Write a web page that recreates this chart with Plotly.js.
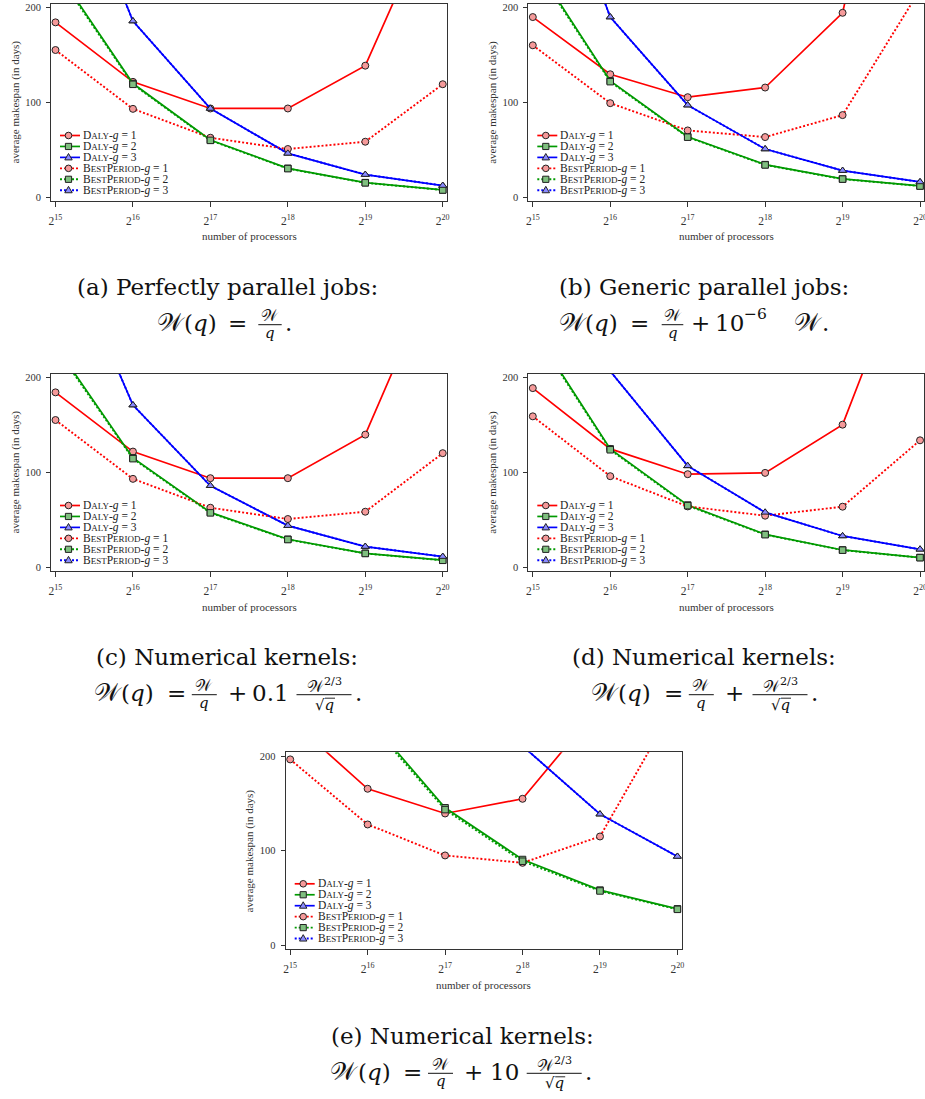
<!DOCTYPE html>
<html>
<head>
<meta charset="utf-8">
<script src="https://cdn.plot.ly/plotly-3.0.1.min.js"></script>
<style>
html,body{margin:0;padding:0;background:#fff;}
#chart{width:925px;height:1099px;}
</style>
</head>
<body>
<div id="chart"></div>
<script>
// ---------------- data ----------------
const procs = [32768, 65536, 131072, 262144, 524288, 1048576];
const procTicks = ['2<sup>15</sup>', '2<sup>16</sup>', '2<sup>17</sup>', '2<sup>18</sup>', '2<sup>19</sup>', '2<sup>20</sup>'];
const yTicks = [0, 100, 200];
const yTickText = ['0', '100', '200'];

// (a) perfectly parallel
const dalyA1 = [184.6, 121.8, 93.7, 93.7, 138.9, 323];
const dalyA2 = [241, 120.0, 60.4, 30.5, 15.4, 7.7];
const dalyA3 = [390, 186.0, 93.7, 46.3, 23.9, 12.3];
const bestA1 = [155.4, 93.3, 62.8, 50.9, 58.6, 119.3];
const bestA2 = [239, 119.2, 60.0, 30.2, 15.2, 7.6];
const bestA3 = [390, 186.0, 93.7, 46.3, 23.9, 12.3];
// (b) generic parallel
const dalyB1 = [190.2, 129.8, 105.6, 115.8, 194.7, 560];
const dalyB2 = [249, 122.8, 63.9, 34.4, 19.3, 11.9];
const dalyB3 = [410, 190.2, 97.2, 50.9, 28.1, 16.1];
const bestB1 = [160.4, 99.3, 70.5, 63.5, 86.7, 219];
const bestB2 = [247, 122.0, 63.4, 34.1, 19.1, 11.8];
const bestB3 = [410, 190.2, 97.2, 50.9, 28.1, 16.1];
// (c) numerical kernels 0.1
const dalyC1 = [184.6, 122.1, 94.0, 94.0, 140.0, 329];
const dalyC2 = [234, 115.4, 57.9, 29.5, 14.7, 7.4];
const dalyC3 = [361, 171.2, 86.0, 43.9, 21.8, 11.2];
const bestC1 = [155.4, 93.3, 62.8, 50.9, 58.6, 120.4];
const bestC2 = [232, 114.6, 57.4, 29.2, 14.5, 7.3];
const bestC3 = [361, 171.2, 86.0, 43.9, 21.8, 11.2];
// (d) numerical kernels 1
const dalyD1 = [189.1, 124.9, 98.2, 99.6, 150.5, 362];
const dalyD2 = [251.6, 124.9, 65.6, 34.7, 18.2, 10.2];
const dalyD3 = [400, 207, 107.0, 57.9, 33.0, 18.9];
const bestD1 = [159.3, 96.1, 64.2, 54.4, 63.9, 134.0];
const bestD2 = [250, 124.0, 65.0, 34.4, 18.0, 10.1];
const bestD3 = [400, 207, 107.0, 57.9, 33.0, 18.9];
// (e) numerical kernels 10
const dalyE1 = [238.6, 165.5, 139.4, 154.9, 253, 400];
const dalyE2 = [480, 240.6, 145.4, 90.8, 58.5, 38.7];
const dalyE3 = [1700, 850, 420, 210.7, 138.7, 94.0];
const bestE1 = [196.5, 127.8, 95.1, 87.3, 115.1, 257.7];
const bestE2 = [475, 238, 143.5, 89.0, 57.6, 38.2];
const bestE3 = [1700, 850, 420, 210.7, 138.7, 94.0];

const legendLabels = [
  'D<span style="font-size:9px">ALY</span>-<i>g</i> = 1',
  'D<span style="font-size:9px">ALY</span>-<i>g</i> = 2',
  'D<span style="font-size:9px">ALY</span>-<i>g</i> = 3',
  'B<span style="font-size:9px">EST</span>P<span style="font-size:9px">ERIOD</span>-<i>g</i> = 1',
  'B<span style="font-size:9px">EST</span>P<span style="font-size:9px">ERIOD</span>-<i>g</i> = 2',
  'B<span style="font-size:9px">EST</span>P<span style="font-size:9px">ERIOD</span>-<i>g</i> = 3'
];
const xTitle = 'number of processors';
const yTitle = 'average makespan (in days)';

// ---------------- styling / layout ----------------
const W = 925, H = 1099;
const px = x => x / W;
const py = y => 1 - y / H;
const BW = 396, BH = 197;
const SERIF = 'Liberation Serif, Times New Roman, serif';
const CAP = 'DejaVu Serif, serif';
const colors = ['#ff0000', '#009a00', '#0000ff'];
const fills = ['#f59a9a', '#7fbf7f', '#8a8aff'];
const symbols = ['circle', 'square', 'triangle-up'];
const DOT = '2px,2px';

const panels = [
  {L: 51, T: 4, daly: [dalyA1, dalyA2, dalyA3], best: [bestA1, bestA2, bestA3]},
  {L: 528.3, T: 4, daly: [dalyB1, dalyB2, dalyB3], best: [bestB1, bestB2, bestB3]},
  {L: 51, T: 374, daly: [dalyC1, dalyC2, dalyC3], best: [bestC1, bestC2, bestC3]},
  {L: 528.3, T: 374, daly: [dalyD1, dalyD2, dalyD3], best: [bestD1, bestD2, bestD3]},
  {L: 285.7, T: 752.3, daly: [dalyE1, dalyE2, dalyE3], best: [bestE1, bestE2, bestE3]}
];

const xr = [14.942 * Math.LOG10E * Math.LN2, 20.055 * Math.LOG10E * Math.LN2];
const yr = [-4, 204];

const traces = [];
const layout = {
  width: W, height: H,
  margin: {l: 0, r: 0, t: 0, b: 0},
  paper_bgcolor: '#fff', plot_bgcolor: '#fff',
  showlegend: false,
  annotations: [], shapes: []
};

function ann(x, y, text, size, opts) {
  const a = Object.assign({
    xref: 'paper', yref: 'paper', x: px(x), y: py(y), text: text,
    showarrow: false, xanchor: 'left', yanchor: 'middle',
    font: {family: CAP, size: size, color: '#111'}, borderpad: 0
  }, opts || {});
  layout.annotations.push(a);
}

panels.forEach((p, k) => {
  const s = k === 0 ? '' : String(k + 1);
  layout['xaxis' + s] = {
    type: 'log', range: xr, domain: [px(p.L), px(p.L + BW)], anchor: 'y' + s,
    tickvals: procs, ticktext: procTicks, ticks: 'outside', ticklen: 5, tickwidth: 1, tickcolor: '#333',
    showline: true, linecolor: '#333', linewidth: 1, mirror: true,
    showgrid: false, zeroline: false, ticklabelstandoff: 4, ticklabeloverflow: 'allow',
    tickfont: {family: SERIF, size: 11.5, color: '#333'}, fixedrange: true
  };
  layout['yaxis' + s] = {
    range: yr, domain: [py(p.T + BH), py(p.T)], anchor: 'x' + s,
    tickvals: yTicks, ticktext: yTickText, ticks: 'outside', ticklen: 4, tickwidth: 1, tickcolor: '#333',
    showline: true, linecolor: '#333', linewidth: 1, mirror: true,
    showgrid: false, zeroline: false, ticklabelstandoff: 3,
    tickfont: {family: SERIF, size: 10.5, color: '#333'}, fixedrange: true
  };
  const groups = [p.daly, p.best];
  groups.forEach((grp, gi) => {
    grp.forEach((vals, g) => {
      traces.push({
        type: 'scatter', mode: 'lines+markers', x: procs, y: vals,
        xaxis: 'x' + s, yaxis: 'y' + s,
        line: {color: colors[g], width: gi === 0 ? 1.7 : 1.9, dash: gi === 0 ? 'solid' : DOT},
        marker: {symbol: symbols[g], size: g === 1 ? 6.5 : 7, color: fills[g], line: {color: '#222', width: 1}},
        hoverinfo: 'skip'
      });
    });
  });
  // axis titles
  ann(p.L + BW / 2, p.T + BH + 35.5, xTitle, 11, {xanchor: 'center', font: {family: SERIF, size: 11, color: '#333'}});
  ann(p.L - 36, p.T + BH / 2, yTitle, 11, {xanchor: 'center', textangle: -90, font: {family: SERIF, size: 11, color: '#333'}});
  // legend
  for (let i = 0; i < 6; i++) {
    const g = i % 3;
    const y = p.T + 131.5 + i * 10.95;
    layout.shapes.push({type: 'line', xref: 'paper', yref: 'paper', x0: px(p.L + 9), x1: px(p.L + 29), y0: py(y), y1: py(y),
      line: {color: colors[g], width: i < 3 ? 1.7 : 1.9, dash: i < 3 ? 'solid' : DOT}});
    const mx = p.L + 17.5;
    if (g === 0) {
      layout.shapes.push({type: 'circle', xref: 'paper', yref: 'paper', x0: px(mx - 3.3), x1: px(mx + 3.3), y0: py(y + 3.3), y1: py(y - 3.3),
        fillcolor: fills[g], line: {color: '#222', width: 1}});
    } else if (g === 1) {
      layout.shapes.push({type: 'rect', xref: 'paper', yref: 'paper', x0: px(mx - 3.1), x1: px(mx + 3.1), y0: py(y + 3.1), y1: py(y - 3.1),
        fillcolor: fills[g], line: {color: '#222', width: 1}});
    } else {
      layout.shapes.push({type: 'path', xref: 'paper', yref: 'paper',
        path: 'M ' + px(mx) + ' ' + py(y - 3.9) + ' L ' + px(mx + 3.7) + ' ' + py(y + 2.5) + ' L ' + px(mx - 3.7) + ' ' + py(y + 2.5) + ' Z',
        fillcolor: fills[g], line: {color: '#222', width: 1}});
    }
    ann(p.L + 31, y, legendLabels[i], 11.5, {font: {family: SERIF, size: 11.5, color: '#222'}});
  }
});

// ---------------- captions ----------------
const SCRW = '\u{1D4B2}';
// items: c = centre x of a text piece, x = left x, f = fraction (x0..x1)
const captions = [
  {cx: 227, base: 294.7, l1: '(a) Perfectly parallel jobs:', items: [
    {w: 1, c: 170.8}, {t: '(<i>q</i>)', c: 200}, {t: '=', c: 237.5}, {f: 1, x0: 258.3, x1: 281.7}, {t: '.', x: 284}]},
  {cx: 704, base: 294.7, l1: '(b) Generic parallel jobs:', items: [
    {w: 1, c: 572.5}, {t: '(<i>q</i>)', c: 601.7}, {t: '=', c: 639.2}, {f: 1, x0: 661.7, x1: 683.3}, {t: '+', c: 700.8},
    {t: '10', c: 729.2}, {t: '\u22126', x: 743, s: 15.5, dy: -11.5}, {w: 1, c: 807.5}, {t: '.', x: 821}]},
  {cx: 227, base: 664.7, l1: '(c) Numerical kernels:', items: [
    {w: 1, c: 108}, {t: '(<i>q</i>)', c: 137.8}, {t: '=', c: 176.1}, {f: 1, x0: 191.8, x1: 216.8}, {t: '+', c: 237.1},
    {t: '0.1', c: 270.7}, {f: 2, x0: 296.5, x1: 351.5}, {t: '.', x: 353.5}]},
  {cx: 704, base: 664.7, l1: '(d) Numerical kernels:', items: [
    {w: 1, c: 605}, {t: '(<i>q</i>)', c: 634.8}, {t: '=', c: 673.1}, {f: 1, x0: 688.8, x1: 713.8}, {t: '+', c: 734.1},
    {f: 2, x0: 752.5, x1: 807.5}, {t: '.', x: 809.5}]},
  {cx: 462, base: 1043.3, l1: '(e) Numerical kernels:', items: [
    {w: 1, c: 344.2}, {t: '(<i>q</i>)', c: 374}, {t: '=', c: 412.3}, {f: 1, x0: 428, x1: 453}, {t: '+', c: 473.3},
    {t: '10', c: 504.2}, {f: 2, x0: 526.7, x1: 581.7}, {t: '.', x: 583.5}]}
];
const CS = 23;
captions.forEach(c => {
  ann(c.cx, c.base - 0.33 * CS, c.l1, CS, {xanchor: 'center'});
  const bar = c.base + 30;
  const mainBase = bar + 6;
  c.items.forEach(it => {
    if (it.w) {
      ann(it.c, mainBase - 0.33 * 25, SCRW, 25, {xanchor: 'center'});
    } else if (it.t !== undefined) {
      const s = it.s || CS;
      const y = mainBase - 0.33 * s + (it.dy || 0);
      if (it.c !== undefined) ann(it.c, y, it.t, s, {xanchor: 'center'});
      else ann(it.x, y, it.t, s);
    } else {
      const cxf = (it.x0 + it.x1) / 2;
      layout.shapes.push({type: 'line', xref: 'paper', yref: 'paper', x0: px(it.x0), x1: px(it.x1), y0: py(bar), y1: py(bar),
        line: {color: '#111', width: 1}});
      if (it.f === 1) {
        ann(cxf, bar - 3.5 - 0.33 * 16, SCRW, 16, {xanchor: 'center'});
        ann(cxf, bar + 13 - 0.33 * 15, '<i>q</i>', 15, {xanchor: 'center'});
      } else {
        ann(cxf, bar - 3.5 - 0.33 * 16, SCRW + '<sup>2/3</sup>', 16, {xanchor: 'center'});
        ann(cxf, bar + 15 - 0.33 * 15, '\u221A<i>q</i>', 15, {xanchor: 'center'});
        layout.shapes.push({type: 'line', xref: 'paper', yref: 'paper', x0: px(cxf + 1), x1: px(cxf + 11), y0: py(bar + 3.5), y1: py(bar + 3.5),
          line: {color: '#111', width: 0.9}});
      }
    }
  });
});

Plotly.newPlot('chart', traces, layout, {staticPlot: true, displayModeBar: false});
</script>
</body>
</html>
